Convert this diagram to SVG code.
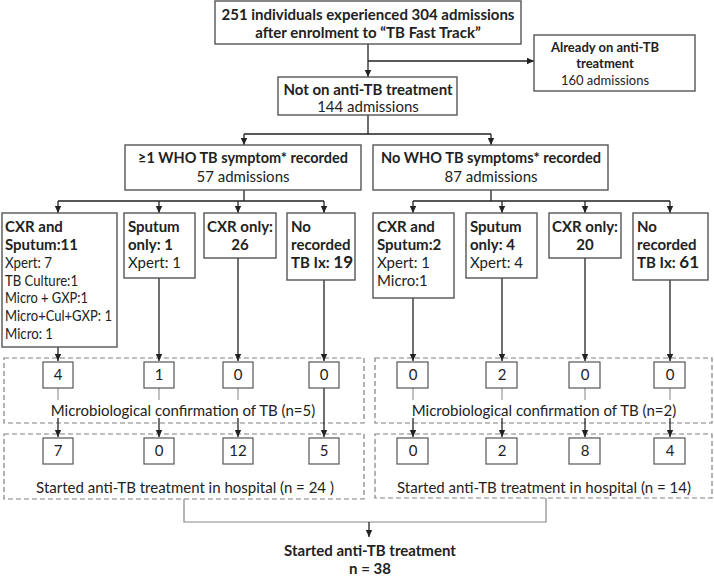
<svg xmlns="http://www.w3.org/2000/svg" width="714" height="583" viewBox="0 0 714 583">
<defs>
<marker id="ah" markerWidth="8" markerHeight="8" refX="7" refY="4" orient="auto" markerUnits="userSpaceOnUse">
<path d="M0,0.8 L7,4 L0,7.2 Z" fill="#222"/>
</marker>
<style>
text{font-family:Lato,"Open Sans","Liberation Sans",sans-serif;fill:#222;font-size:15px}
.b{font-weight:bold}
.m{text-anchor:middle}
.s{font-size:13px}
.box{fill:#fff;stroke:#555;stroke-width:1.4}
.sb{fill:#fff;stroke:#555;stroke-width:1.2}
.dash{fill:none;stroke:#808080;stroke-width:1.2;stroke-dasharray:5 3}
.c{fill:none;stroke:#222;stroke-width:1.3}
.a{fill:none;stroke:#222;stroke-width:1.3;marker-end:url(#ah)}
.g{fill:none;stroke:#999;stroke-width:1.2}
</style>
</defs>

<g id="groups">
<rect class="dash" x="4" y="358" width="360" height="65"/>
<rect class="dash" x="4" y="434" width="360" height="65"/>
<rect class="dash" x="375" y="358" width="337" height="65"/>
<rect class="dash" x="375" y="434" width="337" height="64"/>
</g>

<g id="connectors">
<path class="c" d="M368,44 V61"/>
<path class="a" d="M368,61 V77"/>
<path class="a" d="M368,61 H534"/>
<path class="c" d="M368,115 V134 M244,134 H491"/>
<path class="a" d="M244,134 V145"/>
<path class="a" d="M491,134 V145"/>
<path class="c" d="M244,190 V201 M58,201 H324"/>
<path class="a" d="M58,201 V213"/>
<path class="a" d="M159,201 V213"/>
<path class="a" d="M238,201 V213"/>
<path class="a" d="M324,201 V213"/>
<path class="c" d="M491,190 V201 M413,201 H670"/>
<path class="a" d="M413,201 V213"/>
<path class="a" d="M502,201 V213"/>
<path class="a" d="M585,201 V213"/>
<path class="a" d="M670,201 V213"/>
<path class="a" d="M58,347 V361"/>
<path class="a" d="M159,278 V361"/>
<path class="a" d="M238,258 V361"/>
<path class="a" d="M324,280 V361"/>
<path class="a" d="M413,298 V361"/>
<path class="a" d="M502,278 V361"/>
<path class="a" d="M585,258 V361"/>
<path class="a" d="M670,280 V361"/>
<path class="g" d="M58,388 V400 M159,388 V400 M238,388 V400 M413,388 V400 M502,388 V400 M585,388 V400 M670,388 V400"/>
<path class="a" d="M58,418 V437"/>
<path class="a" d="M159,418 V437"/>
<path class="a" d="M238,418 V437"/>
<path class="a" d="M324,388 V437"/>
<path class="a" d="M413,418 V437"/>
<path class="a" d="M502,418 V437"/>
<path class="a" d="M585,418 V437"/>
<path class="a" d="M670,418 V437"/>
<path class="g" d="M184,499 V522 H546 V498" style="stroke:#888"/>
<path class="a" d="M369,522 V537"/>
</g>

<g id="n-top">
<rect class="box" x="215" y="1" width="306" height="43"/>
<text class="b m" x="368" y="20">251 individuals experienced 304 admissions</text>
<text class="b m" x="368" y="38">after enrolment to “TB Fast Track”</text>
</g>

<g id="n-already">
<rect class="box" x="534" y="35" width="161" height="56"/>
<text class="b m s" x="605" y="52">Already on anti-TB</text>
<text class="b m s" x="605" y="68">treatment</text>
<text class="m s" x="605" y="85">160 admissions</text>
</g>

<g id="n-not">
<rect class="box" x="278" y="77" width="179" height="38"/>
<text class="b m" x="368" y="95">Not on anti-TB treatment</text>
<text class="m" x="368" y="112">144 admissions</text>
</g>

<g id="n-sym">
<rect class="box" x="125" y="145" width="236" height="45"/>
<text class="b m" x="243" y="163" textLength="210" lengthAdjust="spacingAndGlyphs">≥1 WHO TB symptom* recorded</text>
<text class="m" x="243" y="182">57 admissions</text>
</g>

<g id="n-nosym">
<rect class="box" x="373" y="145" width="235" height="45"/>
<text class="b m" x="491" y="163" textLength="220" lengthAdjust="spacingAndGlyphs">No WHO TB symptoms* recorded</text>
<text class="m" x="491" y="182">87 admissions</text>
</g>

<g id="n-l1">
<rect class="box" x="2" y="213" width="115" height="134"/>
<text class="b" x="5" y="232">CXR and</text>
<text class="b" x="5" y="250">Sputum:11</text>
<text x="5" y="268" textLength="47" lengthAdjust="spacingAndGlyphs">Xpert: 7</text>
<text x="5" y="286" textLength="73" lengthAdjust="spacingAndGlyphs">TB Culture:1</text>
<text x="5" y="303" textLength="83" lengthAdjust="spacingAndGlyphs">Micro + GXP:1</text>
<text x="5" y="321" textLength="107" lengthAdjust="spacingAndGlyphs">Micro+Cul+GXP: 1</text>
<text x="5" y="339" textLength="48" lengthAdjust="spacingAndGlyphs">Micro: 1</text>
</g>

<g id="n-l2">
<rect class="box" x="124" y="213" width="71" height="65"/>
<text class="b" x="128" y="232">Sputum</text>
<text class="b" x="128" y="250">only: 1</text>
<text x="128" y="268">Xpert: 1</text>
</g>

<g id="n-l3">
<rect class="box" x="204" y="213" width="72" height="45"/>
<text class="b m" x="240" y="232">CXR only:</text>
<text class="b m" x="240" y="250">26</text>
</g>

<g id="n-l4">
<rect class="box" x="287" y="213" width="68" height="67"/>
<text class="b" x="291" y="232">No</text>
<text class="b" x="291" y="250">recorded</text>
<text class="b" x="291" y="268"><tspan>TB Ix: </tspan><tspan style="font-size:17px">19</tspan></text>
</g>

<g id="n-r1">
<rect class="box" x="373" y="213" width="81" height="85"/>
<text class="b" x="377" y="232">CXR and</text>
<text class="b" x="377" y="250">Sputum:2</text>
<text x="377" y="268">Xpert: 1</text>
<text x="377" y="286">Micro:1</text>
</g>

<g id="n-r2">
<rect class="box" x="466" y="213" width="71" height="65"/>
<text class="b" x="470" y="232">Sputum</text>
<text class="b" x="470" y="250">only: 4</text>
<text x="470" y="268">Xpert: 4</text>
</g>

<g id="n-r3">
<rect class="box" x="549" y="213" width="72" height="45"/>
<text class="b m" x="585" y="232">CXR only:</text>
<text class="b m" x="585" y="250">20</text>
</g>

<g id="n-r4">
<rect class="box" x="633" y="213" width="75" height="67"/>
<text class="b" x="637" y="232">No</text>
<text class="b" x="637" y="250">recorded</text>
<text class="b" x="637" y="268"><tspan>TB Ix:  </tspan><tspan style="font-size:17px">61</tspan></text>
</g>

<g id="n-micro-l">
<rect class="sb" x="43" y="362" width="30" height="26"/><text class="m" x="58" y="380">4</text>
<rect class="sb" x="144" y="362" width="30" height="26"/><text class="m" x="159" y="380">1</text>
<rect class="sb" x="223" y="362" width="30" height="26"/><text class="m" x="238" y="380">0</text>
<rect class="sb" x="309" y="362" width="30" height="26"/><text class="m" x="324" y="380">0</text>
<text class="m" x="183" y="416">Microbiological confirmation of TB (n=5)</text>
</g>

<g id="n-micro-r">
<rect class="sb" x="397" y="362" width="31" height="26"/><text class="m" x="413" y="380">0</text>
<rect class="sb" x="486" y="362" width="31" height="26"/><text class="m" x="502" y="380">2</text>
<rect class="sb" x="569" y="362" width="31" height="26"/><text class="m" x="585" y="380">0</text>
<rect class="sb" x="654" y="362" width="31" height="26"/><text class="m" x="670" y="380">0</text>
<text class="m" x="544" y="416">Microbiological confirmation of TB (n=2)</text>
</g>

<g id="n-treat-l">
<rect class="sb" x="43" y="438" width="30" height="26"/><text class="m" x="58" y="456">7</text>
<rect class="sb" x="144" y="438" width="30" height="26"/><text class="m" x="159" y="456">0</text>
<rect class="sb" x="223" y="438" width="30" height="26"/><text class="m" x="238" y="456">12</text>
<rect class="sb" x="309" y="438" width="30" height="26"/><text class="m" x="324" y="456">5</text>
<text class="m" x="185" y="493">Started anti-TB treatment in hospital (n = 24 )</text>
</g>

<g id="n-treat-r">
<rect class="sb" x="397" y="438" width="31" height="26"/><text class="m" x="413" y="456">0</text>
<rect class="sb" x="486" y="438" width="31" height="26"/><text class="m" x="502" y="456">2</text>
<rect class="sb" x="569" y="438" width="31" height="26"/><text class="m" x="585" y="456">8</text>
<rect class="sb" x="654" y="438" width="31" height="26"/><text class="m" x="670" y="456">4</text>
<text class="m" x="544" y="493">Started anti-TB treatment in hospital (n = 14)</text>
</g>

<g id="n-final">
<text class="b m" x="370" y="556">Started anti-TB treatment</text>
<text class="b m" x="370" y="574">n = 38</text>
</g>
</svg>
